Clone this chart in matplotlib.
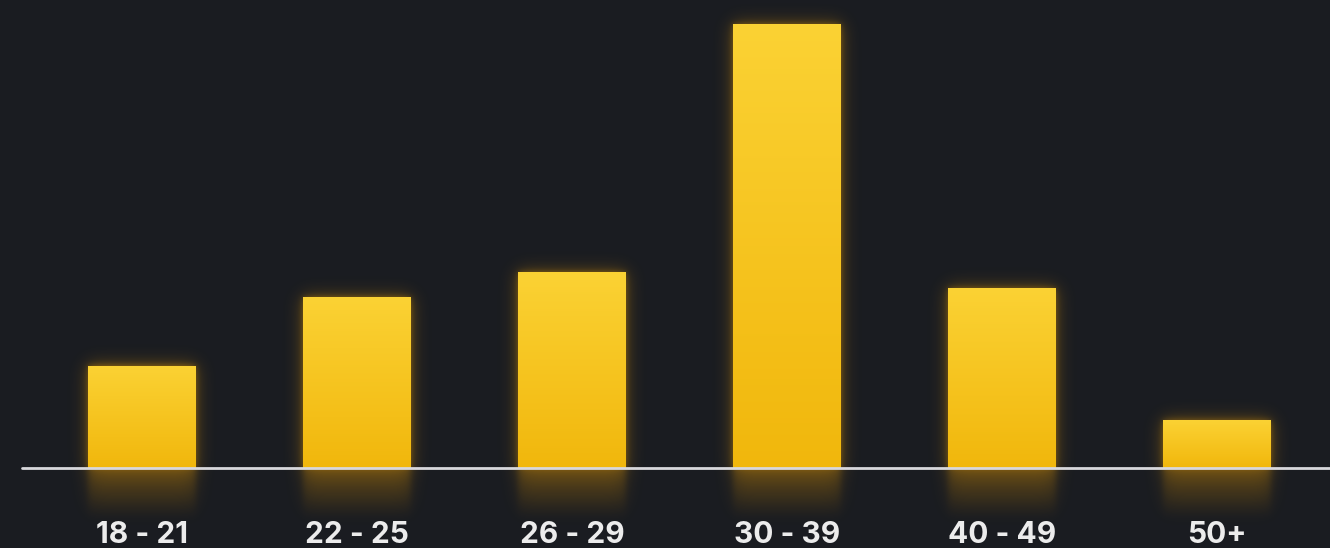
import numpy as np
import matplotlib
matplotlib.use("Agg")
import matplotlib.pyplot as plt
from matplotlib.colors import LinearSegmentedColormap, to_rgb

# data
age_groups = ["18 - 21", "22 - 25", "26 - 29", "30 - 39", "40 - 49", "50+"]
share = [9, 15, 17.2, 39, 15.8, 4.2]

BG = "#1a1c21"
TOP = "#fbd234"
BOTTOM = "#f1b70c"
GLOW = "#f0a000"

W, H, DPI = 1330, 548, 100
fig = plt.figure(figsize=(W / DPI, H / DPI), dpi=DPI, facecolor=BG)
ax = fig.add_axes([0, 0, 1, 1])
ax.set_facecolor(BG)
ax.axis("off")

# layout: bar centres 215px apart, baseline 80px from bottom, tallest bar 24px from top
step_px = 215.0
x_left = -(142 - 0) / step_px
x_right = x_left + W / step_px
px_per_unit = (H - 80 - 24) / max(share)
y_bot = -80 / px_per_unit
y_top = y_bot + H / px_per_unit
ax.set_xlim(x_left, x_right)
ax.set_ylim(y_bot, y_top)

x = np.arange(len(share))
bar_w = 108 / step_px

# glow layer computed on pixel grid
xs = np.linspace(x_left, x_right, W)
ys = np.linspace(y_top, y_bot, H)
XX, YY = np.meshgrid(xs, ys)
src = np.zeros((H, W))
for xi, v in zip(x, share):
    inx = np.abs(XX - xi) <= bar_w / 2
    src[inx & (YY >= 0) & (YY <= v)] = 1.0
    # reflection below the baseline
    depth = 50 / px_per_unit
    m = inx & (YY < 0) & (YY > -depth)
    src[m] = np.maximum(src[m], 0.55 * (1 + YY[m] / depth))

def blur(a, sigma):
    r = int(3 * sigma)
    k = np.exp(-0.5 * (np.arange(-r, r + 1) / sigma) ** 2)
    k /= k.sum()
    a = np.apply_along_axis(lambda row: np.convolve(row, k, mode="same"), 1, a)
    a = np.apply_along_axis(lambda col: np.convolve(col, k, mode="same"), 0, a)
    return a

glow = 0.55 * blur(src, 9) + 0.4 * blur(src, 3)
rgba = np.zeros((H, W, 4))
rgba[..., :3] = to_rgb(GLOW)
rgba[..., 3] = np.clip(glow, 0, 1) * 0.7
ax.imshow(rgba, extent=(x_left, x_right, y_bot, y_top), aspect="auto", zorder=1,
          interpolation="bilinear")

# bars with vertical gradient
cmap = LinearSegmentedColormap.from_list("bar", [BOTTOM, TOP])
grad = np.linspace(1, 0, 256).reshape(-1, 1)
bars = ax.bar(x, share, width=bar_w, color="none", edgecolor="none", zorder=2)
for b in bars:
    x0, y0 = b.get_x(), b.get_y()
    im = ax.imshow(grad, cmap=cmap, aspect="auto", zorder=2,
                   extent=(x0, x0 + b.get_width(), y0, y0 + b.get_height()))
    im.set_clip_path(b)

ax.set_xlim(x_left, x_right)
ax.set_ylim(y_bot, y_top)

# baseline
ax.plot([x_left + 22 / step_px, x_right], [0, 0], color="#d8d8dc", lw=2, zorder=3,
        solid_capstyle="round")

# labels
for xi, lab in zip(x, age_groups):
    ax.text(xi, -67 / px_per_unit, lab, ha="center", va="center", color="#ececec",
            fontsize=21.5, fontweight="bold", family=["Inter", "DejaVu Sans"], zorder=4)

fig.savefig("out.png", dpi=DPI, facecolor=BG)
